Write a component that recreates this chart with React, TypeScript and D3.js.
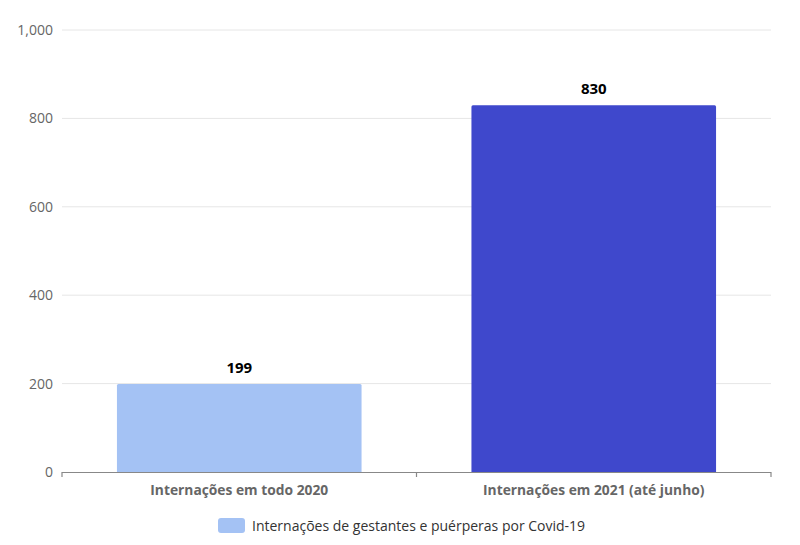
import React from 'react';
import * as d3 from 'd3';

const categories = ['Internações em todo 2020', 'Internações em 2021 (até junho)'];
const values = [199, 830];
const barColors = ['#a4c2f4', '#3f48cc'];
const yTicks = [0, 200, 400, 600, 800, 1000];
const legendLabel = 'Internações de gestantes e puérperas por Covid-19';

const width = 800;
const height = 545;
const margin = { top: 30, right: 29, bottom: 73, left: 62 };

const App: React.FC = () => {
  const innerWidth = width - margin.left - margin.right;
  const innerHeight = height - margin.top - margin.bottom;

  const x = d3.scaleBand<string>()
    .domain(categories)
    .range([0, innerWidth])
    .paddingInner(0)
    .paddingOuter(0);

  const y = d3.scaleLinear()
    .domain([0, 1000])
    .range([innerHeight, 0]);

  const barPad = 0.155;
  const fmt = d3.format(',');
  const font = '"Open Sans", "Noto Sans", sans-serif';

  return (
    <svg width={width} height={height} style={{ display: 'block', position: 'absolute', left: 0, top: 0, background: '#fff' }} fontFamily={font}>
      <g transform={`translate(${margin.left},${margin.top})`}>
        {/* grid */}
        {yTicks.map(t => (
          <g key={t}>
            {t > 0 && (
              <line x1={0} x2={innerWidth} y1={y(t)} y2={y(t)} stroke="#e6e6e6" strokeWidth={1} />
            )}
            <text x={-9} y={y(t)} dy="0.35em" textAnchor="end" fontSize={14} fill="#666">
              {fmt(t)}
            </text>
          </g>
        ))}

        {/* bars */}
        {categories.map((c, i) => {
          const bw = x.bandwidth();
          const bx = (x(c) || 0) + bw * barPad;
          const w = bw * (1 - 2 * barPad);
          return (
            <g key={c}>
              <path
                d={`M${bx},${innerHeight} V${y(values[i]) + 1.5} Q${bx},${y(values[i])} ${bx + 1.5},${y(values[i])} H${bx + w - 1.5} Q${bx + w},${y(values[i])} ${bx + w},${y(values[i]) + 1.5} V${innerHeight} Z`}
                fill={barColors[i]}
              />
              <text x={bx + w / 2} y={y(values[i]) - 11} textAnchor="middle" fontSize={15} fontWeight="bold" fill="#000">
                {values[i]}
              </text>
              <text x={(x(c) || 0) + bw / 2} y={innerHeight + 23} textAnchor="middle" fontSize={13.8} fontWeight="bold" fill="#666">
                {c}
              </text>
            </g>
          );
        })}

        {/* x axis */}
        <line x1={0} x2={innerWidth} y1={innerHeight + 0.5} y2={innerHeight + 0.5} stroke="#888" strokeWidth={1.2} />
        {[0, ...categories.map(c => (x(c) || 0) + x.bandwidth())].map((t, i) => (
          <line key={i} x1={t} x2={t} y1={innerHeight} y2={innerHeight + 5} stroke="#888" strokeWidth={1.2} />
        ))}
      </g>

      {/* legend */}
      <g transform="translate(218,518)">
        <rect x={0} y={0} width={27} height={15} rx={3} fill={barColors[0]} />
        <text x={34} y={8} dy="0.35em" fontSize={14} fill="#333">{legendLabel}</text>
      </g>
    </svg>
  );
};

export default App;
